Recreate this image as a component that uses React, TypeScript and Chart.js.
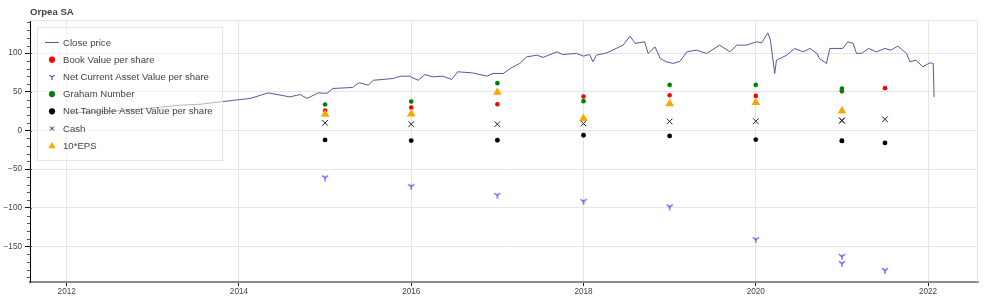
import React, { useEffect, useRef } from "react";
import { Chart, registerables } from "chart.js";

Chart.register(...registerables);

const chartTitle = "Orpea SA";

// Close price (decimal year, price)
const closeYears = [
  2012.04, 2012.12, 2012.35, 2012.73, 2013.12, 2013.32, 2013.55, 2013.78, 2013.93, 2014.13,
  2014.34, 2014.59, 2014.71, 2014.79, 2014.92, 2015.02, 2015.09, 2015.32, 2015.38, 2015.40,
  2015.50, 2015.56, 2015.79, 2015.87, 2015.98, 2016.08, 2016.16, 2016.25, 2016.37, 2016.47,
  2016.54, 2016.71, 2016.88, 2016.95, 2017.07, 2017.15, 2017.26, 2017.34, 2017.46, 2017.53,
  2017.69, 2017.76, 2017.92, 2018.00, 2018.07, 2018.11, 2018.15, 2018.27, 2018.38, 2018.46,
  2018.54, 2018.60, 2018.71, 2018.75, 2018.83, 2018.89, 2018.96, 2019.04, 2019.12, 2019.20,
  2019.31, 2019.43, 2019.58, 2019.70, 2019.78, 2019.89, 2020.01, 2020.07, 2020.14, 2020.17,
  2020.22, 2020.24, 2020.36, 2020.45, 2020.55, 2020.63, 2020.71, 2020.74, 2020.82, 2020.86,
  2021.01, 2021.07, 2021.13, 2021.17, 2021.23, 2021.31, 2021.40, 2021.50, 2021.57, 2021.65,
  2021.75, 2021.79, 2021.86, 2021.94, 2022.02, 2022.06, 2022.07,
];
const closePrices = [
  24, 23.3, 24, 26.3, 30.6, 32.8, 34, 37, 39, 41.5,
  48.7, 43.5, 46.6, 41.5, 48.7, 48, 54.4, 55.7, 61, 61.7,
  58.7, 65, 67.3, 70.3, 70.3, 65, 72.5, 69.4, 70.3, 66,
  76, 74.6, 70.3, 73.8, 73.8, 80.3, 86.8, 95.3, 97.5, 94.6,
  101.8, 98.4, 99.7, 96.2, 98.4, 88.9, 97.5, 100.5, 106.2, 110.5,
  122, 112.7, 114.8, 99.7, 108.3, 93.3, 88.9, 86.8, 89.5, 101.8,
  104, 99.7, 110.5, 101.8, 110.5, 110.5, 114.8, 113.5, 126.4, 117,
  73.8, 91, 97.5, 106.2, 101.8, 106.2, 99.7, 93, 86.8, 106.2,
  106.2, 114.8, 112.7, 99.7, 100, 106.2, 101.8, 106.2, 104, 109.2,
  99.7, 88.9, 91, 82.4, 87.6, 86.8, 43.5,
];

// Fundamentals (report dates as decimal years)
const reportYears = [2015, 2016, 2017, 2018, 2019, 2020, 2021, 2021, 2021.5];
const bookValue = [25.9, 29.8, 34, 44, 45.7, 44.8, 51, 51, 54.8];
const ncavPerShare = [-60.9, -72.2, -83.8, -91.6, -98.5, -141, -162.8, -171.9, -181];
const grahamNumber = [33.7, 37.6, 61.3, 38, 59, 59, 54.4, 51.3, null];
const ntavPerShare = [-12.2, -13, -12.6, -6.1, -7, -11.7, -13.5, -13.2, -16];
const cashPerShare = [9.9, 8.2, 8.2, 9, 11.7, 12, 13, 12.8, 14.6];
const eps10 = [21, 21.5, 49.6, 15.5, 34.5, 36.3, 25.4, null, null];

const xTickYears = [2012, 2014, 2016, 2018, 2020, 2022];
const yTickValues = [-150, -100, -50, 0, 50, 100];

const legendLabels = [
  "Close price",
  "Book Value per share",
  "Net Current Asset Value per share",
  "Graham Number",
  "Net Tangible Asset Value per share",
  "Cash",
  "10*EPS",
];

const FONT = "'Liberation Sans', Arial, Helvetica, sans-serif";
const TEXT = "#444444";
const LINE_COLOR = "#5656a2";
const RED = "#ff0000";
const BLUE = "rgba(30,30,255,0.9)";
const GREEN = "#008000";
const BLACK = "#000000";
const CASH = "#222222";
const ORANGE = "#ffa500";

function toPoints(xs: number[], ys: (number | null)[]) {
  const out: { x: number; y: number }[] = [];
  xs.forEach((x, i) => {
    const y = ys[i];
    if (y !== null && y !== undefined) out.push({ x, y });
  });
  return out;
}

function drawY(ctx: CanvasRenderingContext2D, cx: number, cy: number, r: number, color: string) {
  ctx.save();
  ctx.strokeStyle = color;
  ctx.lineWidth = 1.1;
  ctx.beginPath();
  ctx.moveTo(cx, cy);
  ctx.lineTo(cx - r * 0.9, cy - r * 0.6);
  ctx.moveTo(cx, cy);
  ctx.lineTo(cx + r * 0.9, cy - r * 0.6);
  ctx.moveTo(cx, cy);
  ctx.lineTo(cx, cy + r);
  ctx.stroke();
  ctx.restore();
}

function makeYMarker(size: number, color: string) {
  const c = document.createElement("canvas");
  c.width = size;
  c.height = size;
  const ctx = c.getContext("2d")!;
  drawY(ctx, size / 2, size / 2, size / 2 - 0.5, color);
  return c;
}

export default function App() {
  const ref = useRef<HTMLCanvasElement | null>(null);

  useEffect(() => {
    if (!ref.current) return;
    const yMarker = makeYMarker(8, BLUE);

    const decorations = {
      id: "decorations",
      afterDraw(chart: any) {
        const ctx = chart.ctx as CanvasRenderingContext2D;
        const area = chart.chartArea;
        const ys = chart.scales.y;
        ctx.save();
        // outline
        ctx.strokeStyle = "#e5e5e5";
        ctx.lineWidth = 1;
        ctx.beginPath();
        ctx.moveTo(area.left, area.top + 0.5);
        ctx.lineTo(area.right, area.top + 0.5);
        ctx.moveTo(area.right - 0.5, area.top);
        ctx.lineTo(area.right - 0.5, area.bottom);
        ctx.stroke();
        // minor ticks on y
        ctx.strokeStyle = "#555";
        ctx.beginPath();
        for (let v = -190; v <= 140; v += 10) {
          if (v % 50 === 0) continue;
          const py = Math.round(ys.getPixelForValue(v)) + 0.5;
          ctx.moveTo(area.left - 3, py);
          ctx.lineTo(area.left, py);
        }
        for (const v of yTickValues) {
          const py = Math.round(ys.getPixelForValue(v)) + 0.5;
          ctx.moveTo(area.left, py);
          ctx.lineTo(area.left + 2, py);
        }
        ctx.stroke();

        // title
        ctx.fillStyle = TEXT;
        ctx.font = `bold 9.6px ${FONT}`;
        ctx.textAlign = "left";
        ctx.textBaseline = "middle";
        ctx.fillText(chartTitle, 30, 12);

        // legend
        const lx = 37, ly = 27, lw = 185, lh = 133;
        ctx.fillStyle = "rgba(255,255,255,0.55)";
        ctx.fillRect(lx, ly, lw, lh);
        ctx.strokeStyle = "#e5e5e5";
        ctx.strokeRect(lx + 0.5, ly + 0.5, lw, lh);
        const gx = 52;
        ctx.font = `9.6px ${FONT}`;
        legendLabels.forEach((label, i) => {
          const cy = 42.5 + i * 17.2;
          ctx.save();
          if (i === 0) {
            ctx.strokeStyle = LINE_COLOR;
            ctx.lineWidth = 1;
            ctx.beginPath();
            ctx.moveTo(45, cy);
            ctx.lineTo(59, cy);
            ctx.stroke();
          } else if (i === 1 || i === 3 || i === 4) {
            ctx.fillStyle = i === 1 ? RED : i === 3 ? GREEN : BLACK;
            ctx.beginPath();
            ctx.arc(gx, cy, 3.1, 0, Math.PI * 2);
            ctx.fill();
          } else if (i === 2) {
            drawY(ctx, gx, cy, 3, BLUE);
          } else if (i === 5) {
            ctx.strokeStyle = CASH;
            ctx.lineWidth = 1;
            ctx.beginPath();
            ctx.moveTo(gx - 2, cy - 2);
            ctx.lineTo(gx + 2, cy + 2);
            ctx.moveTo(gx + 2, cy - 2);
            ctx.lineTo(gx - 2, cy + 2);
            ctx.stroke();
          } else if (i === 6) {
            ctx.fillStyle = ORANGE;
            ctx.beginPath();
            ctx.moveTo(gx, cy - 3.6);
            ctx.lineTo(gx + 3.6, cy + 2.6);
            ctx.lineTo(gx - 3.6, cy + 2.6);
            ctx.closePath();
            ctx.fill();
          }
          ctx.restore();
          ctx.fillStyle = TEXT;
          ctx.textAlign = "left";
          ctx.textBaseline = "middle";
          ctx.fillText(label, 63, cy + 0.5);
        });
        ctx.restore();
      },
    };

    const chart = new Chart(ref.current, {
      type: "scatter",
      data: {
        datasets: [
          {
            type: "line",
            label: legendLabels[0],
            data: toPoints(closeYears, closePrices),
            borderColor: LINE_COLOR,
            borderWidth: 1,
            pointRadius: 0,
            showLine: true,
            fill: false,
            tension: 0,
            order: 7,
          } as any,
          {
            label: legendLabels[1],
            data: toPoints(reportYears, bookValue),
            backgroundColor: RED,
            borderColor: RED,
            borderWidth: 0,
            pointRadius: 2.3,
            order: 6,
          },
          {
            label: legendLabels[2],
            data: toPoints(reportYears, ncavPerShare),
            pointStyle: yMarker,
            pointRadius: 4,
            order: 5,
          },
          {
            label: legendLabels[3],
            data: toPoints(reportYears, grahamNumber),
            backgroundColor: GREEN,
            borderColor: GREEN,
            borderWidth: 0,
            pointRadius: 2.3,
            order: 4,
          },
          {
            label: legendLabels[4],
            data: toPoints(reportYears, ntavPerShare),
            backgroundColor: BLACK,
            borderColor: BLACK,
            borderWidth: 0,
            pointRadius: 2.4,
            order: 3,
          },
          {
            label: legendLabels[5],
            data: toPoints(reportYears, cashPerShare),
            pointStyle: "crossRot",
            borderColor: CASH,
            borderWidth: 1,
            pointRadius: 4,
            order: 2,
          },
          {
            label: legendLabels[6],
            data: toPoints(reportYears, eps10),
            pointStyle: "triangle",
            backgroundColor: ORANGE,
            borderColor: ORANGE,
            borderWidth: 0,
            pointRadius: 5,
            order: 1,
          },
        ],
      },
      options: {
        animation: false,
        responsive: false,
        events: [],
        layout: { padding: { top: 20, right: 22, left: 0, bottom: 0 } },
        plugins: {
          legend: { display: false },
          tooltip: { enabled: false },
          title: { display: false },
        },
        scales: {
          x: {
            type: "linear",
            min: 2011.574,
            max: 2022.58,
            afterBuildTicks: (scale: any) => {
              scale.ticks = xTickYears.map((v) => ({ value: v }));
            },
            afterFit: (scale: any) => {
              scale.height = 16;
            },
            ticks: {
              color: TEXT,
              font: { family: FONT, size: 8.2 },
              padding: 1,
              maxRotation: 0,
              autoSkip: false,
              callback: (v: any) => String(v),
            },
            grid: {
              color: "#e5e5e5",
              tickColor: "#222",
              tickLength: 4,
            },
            border: { display: true, color: "#8a8a8a", width: 2 },
          },
          y: {
            type: "linear",
            min: -196,
            max: 143,
            afterBuildTicks: (scale: any) => {
              scale.ticks = yTickValues.map((v) => ({ value: v }));
            },
            afterFit: (scale: any) => {
              scale.width = 30;
            },
            ticks: {
              color: TEXT,
              font: { family: FONT, size: 8.2 },
              padding: 3,
              autoSkip: false,
              callback: (v: any) => (Number(v) < 0 ? "\u2212" + Math.abs(Number(v)) : String(v)),
            },
            grid: {
              color: "#e5e5e5",
              tickColor: "#111",
              tickLength: 5,
            },
            border: { display: true, color: "#000", width: 1 },
          },
        },
      },
      plugins: [decorations],
    } as any);

    return () => chart.destroy();
  }, []);

  return (
    <div style={{ position: "absolute", left: 0, top: 0, width: 1000, height: 298, background: "#fff" }}>
      <canvas ref={ref} width={1000} height={298} style={{ display: "block", width: 1000, height: 298 }} />
    </div>
  );
}
